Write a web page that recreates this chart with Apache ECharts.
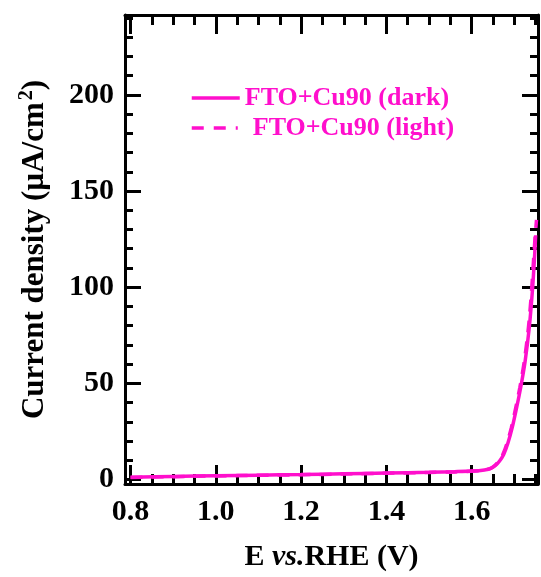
<!DOCTYPE html>
<html>
<head>
<meta charset="utf-8">
<script src="https://cdn.jsdelivr.net/npm/echarts@6/dist/echarts.min.js"></script>
<style>html,body{margin:0;padding:0;background:#fff}#c{width:541px;height:577px}</style>
</head>
<body>
<div id="c"></div>
<script>
// ---- data ----
const darkV = [0.80, 0.90, 1.00, 1.10, 1.20, 1.30, 1.40, 1.50, 1.56, 1.60, 1.63, 1.645, 1.655, 1.665, 1.675, 1.685, 1.695, 1.705, 1.715, 1.725, 1.735, 1.742, 1.747, 1.750];
const darkJ = [1.2, 1.6, 2.0, 2.3, 2.6, 3.0, 3.4, 3.8, 4.1, 4.4, 5.0, 5.8, 7.2, 9.5, 13, 19, 27, 37, 48, 61, 79, 97, 114, 127];
const lightV = [0.80, 0.90, 1.00, 1.10, 1.20, 1.30, 1.40, 1.50, 1.56, 1.60, 1.63, 1.643, 1.653, 1.663, 1.673, 1.683, 1.693, 1.703, 1.713, 1.723, 1.733, 1.740, 1.745, 1.749, 1.752];
const lightJ = [1.1, 1.5, 1.9, 2.2, 2.5, 2.9, 3.3, 3.7, 4.0, 4.3, 4.9, 5.7, 7.1, 9.4, 13, 19, 27, 37, 48, 61, 79, 97, 114, 127, 135];
const seriesNames = ['FTO+Cu90 (dark)', 'FTO+Cu90 (light)'];
const xMajorTicks = [0.8, 1.0, 1.2, 1.4, 1.6];
const xMinorTicks = [0.85, 0.9, 0.95, 1.05, 1.1, 1.15, 1.25, 1.3, 1.35, 1.45, 1.5, 1.55, 1.65, 1.7, 1.75];
const yMajorTicks = [0, 50, 100, 150, 200];
const yMinorTicks = [10, 20, 30, 40, 60, 70, 80, 90, 110, 120, 130, 140, 160, 170, 180, 190, 210, 220, 230, 240];

const C = '#ff0fcc';
const FONT = 'Liberation Serif';
const xMin = 0.787, xMax = 1.7555, yMin = -2.3, yMax = 241.5;

function pair(a, b) { return a.map((v, i) => [v, b[i]]); }

function xAx(pos, vals, len, showLine, showLabel, extra) {
  return Object.assign({
    type: 'value', position: pos, min: xMin, max: xMax,
    axisLine: { show: showLine, onZero: false, lineStyle: { color: '#000', width: 3 } },
    axisTick: { show: true, inside: true, length: len, customValues: vals, lineStyle: { color: '#000', width: 3 } },
    axisLabel: { show: showLabel, customValues: vals, margin: 13, formatter: v => v.toFixed(1),
      color: '#000', fontFamily: FONT, fontWeight: 'bold', fontSize: 30 },
    splitLine: { show: false }
  }, extra || {});
}
function yAx(pos, vals, len, showLine, showLabel, extra) {
  return Object.assign({
    type: 'value', position: pos, min: yMin, max: yMax,
    axisLine: { show: showLine, onZero: false, lineStyle: { color: '#000', width: 3 } },
    axisTick: { show: true, inside: true, length: len, customValues: vals, lineStyle: { color: '#000', width: 3 } },
    axisLabel: { show: showLabel, customValues: vals, margin: 11, formatter: v => String(Math.round(v)),
      color: '#000', fontFamily: FONT, fontWeight: 'bold', fontSize: 30 },
    splitLine: { show: false }
  }, extra || {});
}

const legendText = { color: C, fontFamily: FONT, fontWeight: 'bold', fontSize: 26 };
const chart = echarts.init(document.getElementById('c'), null, { renderer: 'canvas' });
chart.setOption({
  animation: false,
  backgroundColor: '#fff',
  grid: { left: 125, right: 3, top: 15, bottom: 92, containLabel: false },
  xAxis: [
    xAx('bottom', xMajorTicks, 19, true, true, {
      name: '{a|E }{i|vs.}{a|RHE (V)}', nameLocation: 'middle', nameGap: 58,
      nameTextStyle: { rich: {
        a: { fontFamily: FONT, fontWeight: 'bold', fontSize: 30, color: '#000' },
        i: { fontFamily: FONT, fontWeight: 'bold', fontStyle: 'italic', fontSize: 30, color: '#000' }
      } }
    }),
    xAx('top', xMajorTicks, 19, true, false),
    xAx('bottom', xMinorTicks, 10, false, false),
    xAx('top', xMinorTicks, 10, false, false)
  ],
  yAxis: [
    yAx('left', yMajorTicks, 16, true, true, {
      name: '{a|Current density (µA/cm}{s|2}{a|)}', nameLocation: 'middle', nameGap: 72, nameRotate: 90,
      nameTextStyle: { rich: {
        a: { fontFamily: FONT, fontWeight: 'bold', fontSize: 31, color: '#000', lineHeight: 36 },
        s: { fontFamily: FONT, fontWeight: 'bold', fontSize: 20, color: '#000', verticalAlign: 'top', lineHeight: 36, padding: [0, 0, 0, 2] }
      } }
    }),
    yAx('right', yMajorTicks, 16, true, false),
    yAx('left', yMinorTicks, 8, false, false),
    yAx('right', yMinorTicks, 8, false, false)
  ],
  legend: [
    { data: [seriesNames[0]], left: 185, top: 80, itemWidth: 48, itemHeight: 14, itemGap: 0, selectedMode: false,
      itemStyle: { opacity: 0, borderWidth: 0 }, lineStyle: { width: 3.5, type: 'solid', color: C },
      textStyle: Object.assign({}, legendText) },
    { data: [seriesNames[1]], left: 185, top: 110, itemWidth: 46, itemHeight: 14, itemGap: 0, selectedMode: false,
      itemStyle: { opacity: 0, borderWidth: 0 }, lineStyle: { width: 3.5, type: [12, 10], color: C },
      textStyle: Object.assign({ padding: [0, 0, 0, 10] }, legendText) }
  ],
  series: [
    { name: seriesNames[0], type: 'line', xAxisIndex: 0, yAxisIndex: 0, data: pair(darkV, darkJ),
      showSymbol: false, symbol: 'none', smooth: 0.3, color: C, lineStyle: { color: C, width: 3.5, type: 'solid' } },
    { name: seriesNames[1], type: 'line', xAxisIndex: 0, yAxisIndex: 0, data: pair(lightV, lightJ),
      showSymbol: false, symbol: 'none', smooth: 0.3, color: C, lineStyle: { color: C, width: 3.5, type: [12, 9] } }
  ]
});
</script>
</body>
</html>
